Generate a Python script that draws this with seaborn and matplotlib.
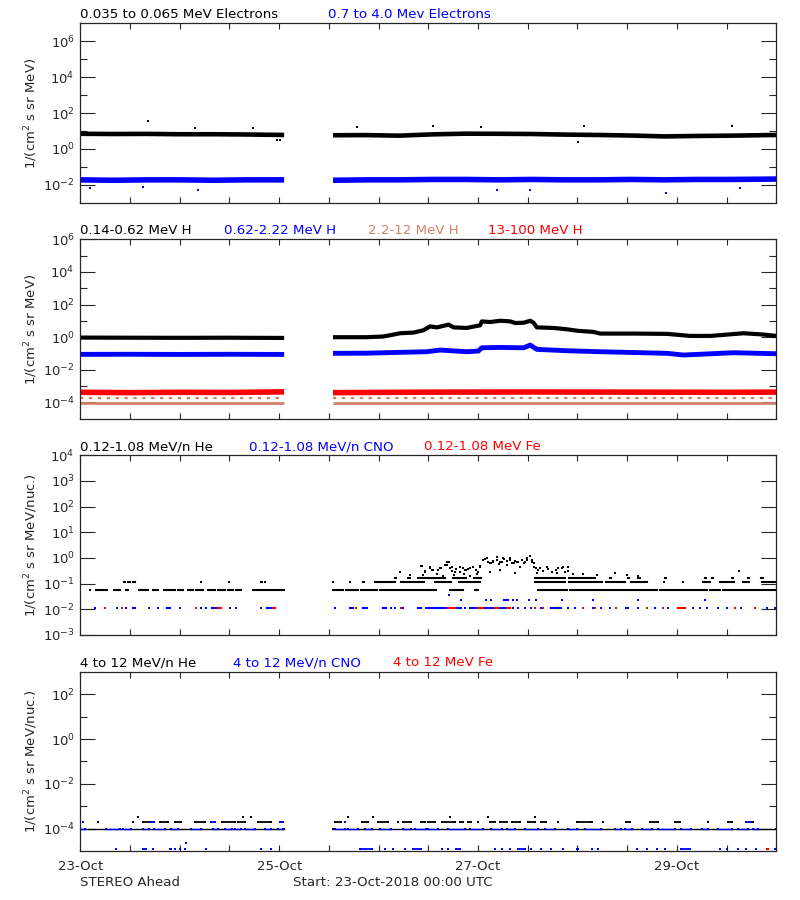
import numpy as np
import pandas as pd
import seaborn as sns
import matplotlib.pyplot as plt
from matplotlib.ticker import FixedLocator, NullFormatter, FuncFormatter

# all times are hours since 23-Oct-2018 00:00 UTC
BLUE = "#0000ff"
RED = "#ff0000"
SALMON = "#d2826a"

DAY_TICKS = [0, 48, 96, 144]
DAY_LABELS = ["23-Oct", "25-Oct", "27-Oct", "29-Oct"]
DATA_SEGMENTS = [[0, 49.2], [61, 168]]

# --- panel 1: electrons
E_LO_T = [0, 8, 16, 24, 32, 40, 49.2, 61, 69, 77, 85, 93, 101, 109, 117, 125, 133, 141, 149, 157, 168]
E_LO_V = [7.0, 6.8, 6.9, 6.6, 6.6, 6.4, 6.0, 5.8, 5.9, 5.5, 6.5, 7.1, 7.0, 6.8, 6.3, 6.0, 5.6, 5.0, 5.3, 5.5, 6.0]
E_HI_T = E_LO_T
E_HI_V = [0.019, 0.018, 0.019, 0.019, 0.018, 0.019, 0.019, 0.018, 0.019, 0.019, 0.020,
          0.020, 0.019, 0.020, 0.019, 0.019, 0.020, 0.019, 0.020, 0.020, 0.021]
E_LO_OUT_T = [16.4, 27.7, 41.8, 66.7, 85.2, 96.7, 121.7, 157.3, 47.4, 48.2, 120.1]
E_LO_OUT_V = [37, 14.7, 14.7, 16.7, 19.7, 16.7, 18, 19.7, 3.0, 3.0, 2.6]
E_HI_OUT_T = [2.3, 15.2, 28.5, 100.5, 108.6, 141.3, 159.3]
E_HI_OUT_V = [0.0068, 0.0077, 0.005, 0.005, 0.005, 0.0033, 0.0068]

# --- panel 2: protons
H1_T = [0, 12, 24, 36, 49.2, 61, 65, 69, 71, 73, 75, 77.2, 80.4, 82.8, 84.4, 86.1, 88.9, 90.1,
        93.3, 95.7, 96.5, 96.9, 98.9, 101.4, 103.8, 105.0, 107.0, 108.6, 109.4, 110.2, 114.2,
        117.5, 119.9, 123.9, 125.5, 133.6, 141.6, 147.2, 152.1, 160.1, 165.0, 168]
H1_V = [0.95, 0.93, 0.92, 0.93, 0.9, 1.0, 1.0, 1.0, 1.05, 1.1, 1.35, 1.75, 1.92, 2.65, 4.6, 4.0,
        5.9, 4.0, 3.7, 4.9, 5.3, 9.3, 8.5, 10.2, 9.3, 7.4, 7.7, 10.2, 7.7, 4.0, 3.7, 3.05, 2.5,
        2.1, 1.67, 1.67, 1.6, 1.2, 1.2, 1.75, 1.45, 1.2]
H2_T = [0, 12, 24, 36, 49.2, 61, 69, 77.2, 83.6, 86.9, 93.3, 96.1, 96.9, 101.4, 107.0, 108.6,
        110.2, 117.5, 125.5, 141.6, 145.6, 157.7, 168]
H2_V = [0.089, 0.09, 0.088, 0.09, 0.088, 0.103, 0.105, 0.118, 0.129, 0.163, 0.129, 0.142, 0.225,
        0.236, 0.225, 0.33, 0.18, 0.148, 0.129, 0.103, 0.081, 0.112, 0.097]
H3_T = [0, 24, 49.2, 61, 100, 168]
H3_V = [8.7e-5, 8.7e-5, 8.7e-5, 8.7e-5, 8.7e-5, 8.7e-5]
H3_SPARSE = 1.9e-4
H4_T = [0, 12, 24, 36, 49.2, 61, 85, 109, 133, 157, 168]
H4_V = [4.2e-4, 4.0e-4, 4.2e-4, 4.1e-4, 4.5e-4, 4.0e-4, 4.3e-4, 4.4e-4, 4.3e-4, 4.2e-4, 4.3e-4]

# --- panel 3: 0.12-1.08 MeV/n heavy ions (count levels)
HE_LEVELS = [0.055, 0.11, 0.165]
HE_ROW1 = [[2.3, 2.3], [3.9, 6.5], [8.1, 9.5], [11.1, 11.5], [14.2, 16.3], [17.6, 18.8],
           [20.2, 22.8], [23.6, 24.8], [26.0, 27.2], [28.0, 29.6], [30.8, 32.5], [33.2, 34.9],
           [35.7, 36.9], [37.7, 38.9], [41.7, 46.1], [46.5, 49.2], [61.0, 63.5], [64.2, 67.0],
           [67.8, 71.5], [72.3, 83.9], [84.0, 85.9], [89.2, 92.4], [95.2, 96.0], [110.5, 117.5],
           [118.2, 139.2], [139.9, 151.3], [152.0, 154.5], [155.2, 164.2], [164.8, 168.0]]
HE_ROW2 = [[10.5, 10.8], [11.6, 11.9], [12.8, 13.1], [29.2, 29.2], [35.8, 35.8], [43.6, 43.9],
           [44.5, 44.7], [61.0, 61.0], [65.0, 65.2], [68.3, 68.5], [71.1, 76.0], [77.5, 83.0],
           [85.5, 89.5], [91.5, 96.5], [109.8, 117.0], [118.0, 126.0], [127.0, 131.5],
           [133.0, 136.7], [140.8, 140.8], [145.6, 145.6], [150.4, 152.0], [154.5, 157.7],
           [160.0, 161.3], [164.5, 168.0]]
HE_ROW3 = [[75.9, 76.3], [79.0, 79.6], [81.5, 83.9], [84.5, 88.0], [90.0, 93.0], [95.0, 96.8],
           [109.7, 117.0], [118.0, 124.2], [127.8, 128.1], [132.2, 132.5], [134.7, 135.0],
           [141.1, 141.4], [150.8, 151.1], [152.4, 152.7], [157.2, 157.5], [161.2, 161.5],
           [164.4, 164.7]]
HE_CLOUD_T = [77.1, 79.5, 82.3, 83.2, 82.4, 84.4, 83.2, 85.2, 86.8, 88.5, 88.9, 89.7, 90.5, 91.7,
              92.9, 93.7, 94.9, 96.1, 96.5, 97.3, 98.1, 98.9, 99.7, 100.5, 101.3, 102.1, 103.0,
              103.8, 104.6, 105.4, 106.2, 107.0, 107.8, 108.6, 109.0, 109.4, 111.0, 112.6, 113.8,
              115.4, 116.6, 117.8, 119.0, 121.4, 124.7, 129.1, 131.9, 134.7, 158.9, 82.8, 86.1,
              87.6, 90.1, 92.5, 94.1, 95.7, 98.9, 101.3, 105.0, 110.2, 115.0,
              84.4, 84.9, 86.4, 87.0, 88.1, 88.6, 89.2, 89.7, 90.8, 91.6, 92.4, 93.2, 94.0, 94.8,
              95.6, 96.4, 97.2, 97.8, 98.4, 99.1, 99.6, 100.5, 101.0, 101.7, 102.3, 102.9, 103.7,
              104.2, 105.0, 105.7, 106.5, 107.3, 107.9, 108.5, 109.1, 109.6, 109.9, 110.5, 111.7,
              112.9, 113.9, 114.9, 116.2, 117.0, 117.8]
HE_CLOUD_V = [0.27, 0.22, 0.50, 0.31, 0.49, 0.43, 0.29, 0.34, 0.40, 0.53, 0.72, 0.46, 0.29, 0.46,
              0.34, 0.36, 0.43, 0.29, 0.43, 0.84, 0.97, 0.62, 0.72, 1.12, 0.66, 0.97, 0.53, 0.84,
              0.62, 0.72, 0.46, 0.62, 0.84, 1.2, 0.72, 0.46, 0.40, 0.43, 0.29, 0.40, 0.43, 0.43,
              0.24, 0.24, 0.22, 0.25, 0.22, 0.20, 0.32, 0.22, 0.24, 0.20, 0.22, 0.24, 0.20, 0.24,
              0.29, 0.34, 0.25, 0.25, 0.25,
              0.40, 0.34, 0.34, 0.42, 0.53, 0.68, 0.40, 0.31, 0.37, 0.29, 0.40, 0.34, 0.42, 0.46,
              0.34, 0.50, 0.84, 0.91, 0.72, 0.62, 0.76, 0.84, 0.57, 0.72, 0.91, 0.76, 0.97,
              0.62, 0.76, 0.68, 0.84, 0.72, 1.03, 1.23, 0.84, 0.62, 0.40, 0.34, 0.31,
              0.37, 0.29, 0.34, 0.40, 0.28, 0.31]
CNO_LEVELS = [0.011, 0.022]
CNO_ROW1 = [[3.6, 3.6], [8.9, 8.9], [11.1, 11.1], [12.7, 13.3], [16.6, 16.6], [18.8, 18.8],
            [21.0, 21.6], [24.0, 24.0], [29.2, 29.2], [30.4, 30.4], [31.8, 32.8], [36.1, 36.1],
            [37.7, 37.7], [43.7, 43.7], [45.1, 46.1], [61.4, 61.4], [65.0, 65.8], [68.3, 69.1],
            [73.1, 73.9], [75.1, 75.1], [75.9, 75.9], [77.9, 77.9], [81.5, 82.3], [83.5, 83.5],
            [84.0, 88.8], [90.4, 92.0], [92.8, 92.8], [94.0, 95.6], [97.6, 100.0], [100.9, 102.5],
            [104.5, 104.5], [105.7, 105.7], [107.3, 107.3], [108.9, 108.9], [111.3, 111.3],
            [113.7, 116.1], [117.8, 117.8], [119.4, 119.4], [123.8, 123.8], [125.8, 125.8],
            [127.8, 127.8], [131.8, 132.3], [134.7, 134.7], [138.7, 138.7], [141.9, 141.9],
            [145.9, 145.9], [147.9, 147.9], [149.6, 149.6], [151.2, 151.2], [154.0, 154.0],
            [156.0, 156.0], [159.6, 159.6], [165.7, 165.7], [167.7, 167.7]]
CNO_ROW2 = [[91.8, 91.8], [98.0, 98.0], [99.2, 99.2], [102.3, 103.3], [104.5, 104.5],
            [105.5, 105.5], [108.3, 108.3], [109.9, 109.9], [116.3, 116.3], [123.8, 123.8],
            [134.7, 134.7], [150.8, 150.8]]
CNO_EXTRA_T = [89.0]
CNO_EXTRA_V = [0.037]
FE_ROW1 = [[5.9, 5.9], [10.1, 10.1], [28.0, 28.0], [33.2, 33.9], [46.5, 47.1], [66.6, 66.6],
           [77.4, 77.4], [88.8, 90.4], [96.0, 97.2], [100.05, 100.9], [102.9, 103.7],
           [109.7, 109.7], [111.7, 111.7], [116.1, 116.1], [121.4, 121.4], [124.2, 124.2],
           [129.4, 129.4], [136.7, 136.7], [140.7, 140.7], [144.3, 145.9], [158.0, 158.0],
           [162.8, 162.8]]

# --- panel 4: 4-12 MeV/n heavy ions
HI_LEVELS = [1.0e-4, 2.0e-4, 3.2e-4, 1.3e-5]
HE4_ROW2 = [[4.3, 4.3], [12.7, 12.7], [15.1, 17.9], [19.2, 21.2], [22.8, 24.4], [27.6, 30.0],
            [34.1, 37.3], [38.1, 39.7], [42.9, 46.1], [61.4, 63.0], [67.9, 69.5], [71.9, 74.3],
            [76.7, 76.7], [77.9, 79.9], [82.3, 83.2], [84.0, 85.6], [87.2, 90.4], [91.6, 92.4],
            [93.6, 94.4], [96.0, 96.0], [98.8, 100.1], [101.3, 102.9], [104.1, 106.1],
            [108.1, 109.7], [111.3, 112.5], [115.3, 115.3], [119.8, 123.4], [126.2, 126.2],
            [131.8, 132.7], [137.5, 139.5], [143.5, 144.7], [151.6, 151.6], [156.4, 157.2],
            [161.6, 162.4]]
HE4_ROW3_T = [13.9, 39.3, 41.3, 64.6, 70.7, 89.2, 98.4, 109.7]
CNO4_LINE = [[0, 1.05], [6.3, 9.5], [10.3, 12.3], [15.1, 16.7], [17.9, 20.4], [22.0, 23.6],
             [26.8, 29.2], [32.0, 33.3], [34.9, 36.5], [37.3, 38.9], [39.7, 42.1], [44.5, 46.1],
             [47.7, 48.9], [61.4, 63.8], [64.6, 67.1], [68.7, 70.3], [72.3, 75.1], [77.9, 79.9],
             [80.7, 83.5], [84.0, 86.4], [88.8, 92.8], [94.0, 97.2], [99.2, 101.7], [102.9, 104.9],
             [107.3, 110.5], [112.1, 114.5], [117.8, 119.8], [121.8, 125.8], [129.0, 130.6],
             [131.4, 133.1], [135.5, 137.9], [139.5, 143.5], [145.1, 147.5], [150.0, 151.6],
             [154.0, 157.2], [158.8, 161.2], [162.4, 163.6]]
CNO4_ROW2 = [[0.6, 0.6], [17.1, 17.9], [31.6, 32.4], [48.1, 48.9], [63.8, 63.8], [160.8, 161.6]]
CNO4_LOW = [[8.7, 8.7], [15.1, 15.9], [17.5, 17.5], [21.6, 22.0], [22.8, 22.8], [24.0, 24.0],
            [25.2, 25.2], [30.4, 30.4], [43.7, 43.7], [46.1, 46.1], [67.5, 70.3], [73.5, 73.5],
            [75.5, 75.5], [78.3, 78.3], [80.3, 82.3], [87.2, 87.2], [88.8, 88.8], [90.8, 91.6],
            [100.1, 100.1], [101.7, 101.7], [103.7, 103.7], [105.7, 107.3], [108.9, 108.9],
            [111.3, 111.3], [113.7, 113.7], [116.6, 116.6], [119.8, 120.2], [123.4, 123.4],
            [125.0, 125.0], [134.3, 134.3], [136.7, 136.7], [139.1, 139.1], [141.1, 141.1],
            [145.1, 147.1], [154.4, 154.4], [156.0, 156.0], [158.8, 158.8], [160.8, 160.8],
            [163.2, 163.2], [167.7, 167.7]]
CNO4_EXTRA_T = [25.4]
CNO4_EXTRA_V = [2.4e-5]
FE4_LOW = [[165.7, 166.1]]


def series_frame(t, v):
    df = pd.DataFrame({"t": t, "v": v})
    df["seg"] = (df["t"] > 55).astype(int)
    return df


def draw_band(ax, t, v, color, lw):
    sns.lineplot(data=series_frame(t, v), x="t", y="v", units="seg", estimator=None,
                 color=color, lw=lw, ax=ax, solid_capstyle="butt")


def draw_rows(ax, segs, level, color, lw=1.5):
    a = [s[0] for s in segs]
    b = [s[1] for s in segs]
    ax.hlines([level] * len(segs), a, b, colors=color, lw=lw, capstyle="projecting")
    pts = pd.DataFrame({"t": a + b, "v": [level] * (2 * len(segs))})
    sns.scatterplot(data=pts, x="t", y="v", color=color, marker="s", s=lw * lw * 1.1,
                    linewidth=0, ax=ax)


def draw_points(ax, t, v, color, size=3.0):
    sns.scatterplot(data=pd.DataFrame({"t": t, "v": v}), x="t", y="v", color=color,
                    marker="s", s=size, linewidth=0, ax=ax)


def setup_axis(ax, ylim, major, minor, ylabel, show_x):
    ax.set_yscale("log")
    ax.set_xlim(0, 168)
    ax.set_ylim(*ylim)
    ax.yaxis.set_major_locator(FixedLocator([10.0 ** k for k in major]))
    ax.yaxis.set_minor_locator(FixedLocator([10.0 ** k for k in minor]))
    ax.yaxis.set_major_formatter(FuncFormatter(lambda y, _: f"$10^{{{int(round(np.log10(y)))}}}$"))
    ax.yaxis.set_minor_formatter(NullFormatter())
    ax.xaxis.set_major_locator(FixedLocator(list(range(0, 169, 12))))
    ax.xaxis.set_major_formatter(FuncFormatter(
        lambda x, _: DAY_LABELS[DAY_TICKS.index(int(x))] if show_x and int(x) in DAY_TICKS else ""))
    ax.tick_params(axis="y", which="major", direction="in", length=10.5, width=0.8,
                   left=True, right=True, labelsize=9.5, pad=4)
    ax.tick_params(axis="y", which="minor", direction="in", length=5.3, width=0.8,
                   left=True, right=True)
    ax.tick_params(axis="x", which="major", direction="in", length=4.5, width=0.8,
                   top=True, bottom=True, labelsize=9.5, pad=6)
    ax.text(-0.071, 0.5, ylabel, transform=ax.transAxes, rotation=90, ha="center",
            va="center", fontsize=9.5)
    for s in ax.spines.values():
        s.set_linewidth(0.9)


def titles(fig, top_px, parts):
    y = 1 - (top_px - 5.3) / 900
    for x_px, text, color in parts:
        fig.text(x_px / 800, y, text, color=color, fontsize=9.6, va="baseline", ha="left")


def main():
    sns.set_style("white")
    plt.rcParams["font.family"] = ["DejaVu Sans"]
    plt.rcParams["mathtext.fontset"] = "dejavusans"
    fig = plt.figure(figsize=(8, 9), dpi=100)

    tops = [23.3, 239.3, 455.3, 671.7]
    axes = [fig.add_axes([80.3 / 800, 1 - (t + 179.5) / 900, 696 / 800, 179.5 / 900]) for t in tops]
    ax1, ax2, ax3, ax4 = axes

    unit_a = "1/(cm$^2$ s sr MeV)"
    unit_b = "1/(cm$^2$ s sr MeV/nuc.)"

    # panel 1
    setup_axis(ax1, (1e-3, 1e7), [-2, 0, 2, 4, 6], [-1, 1, 3, 5], unit_a, False)
    draw_band(ax1, E_LO_T, E_LO_V, "black", 3.3)
    draw_band(ax1, E_HI_T, E_HI_V, BLUE, 4.0)
    draw_points(ax1, E_LO_OUT_T, E_LO_OUT_V, "black", 4)
    draw_points(ax1, E_HI_OUT_T, E_HI_OUT_V, BLUE, 4)
    titles(fig, tops[0], [(80, "0.035 to 0.065 MeV Electrons", "black"),
                          (328, "0.7 to 4.0 Mev Electrons", BLUE)])

    # panel 2
    setup_axis(ax2, (1e-5, 1e6), [-4, -2, 0, 2, 4, 6], [-3, -1, 1, 3, 5], unit_a, False)
    draw_band(ax2, H4_T, H4_V, RED, 4.0)
    for a, b in DATA_SEGMENTS:
        ax2.hlines(H3_SPARSE, a, b, colors=SALMON, lw=1.6, linestyles=(0, (1.5, 2.5)))
    draw_band(ax2, H3_T, H3_V, SALMON, 2.0)
    draw_band(ax2, H2_T, H2_V, BLUE, 3.5)
    draw_band(ax2, H1_T, H1_V, "black", 3.0)
    titles(fig, tops[1], [(80, "0.14-0.62 MeV H", "black"), (224, "0.62-2.22 MeV H", BLUE),
                          (368, "2.2-12 MeV H", SALMON), (488, "13-100 MeV H", RED)])

    # panel 3
    setup_axis(ax3, (1e-3, 1e4), [-3, -2, -1, 0, 1, 2, 3, 4], [], unit_b, False)
    for segs, lev in zip([HE_ROW1, HE_ROW2, HE_ROW3], HE_LEVELS):
        draw_rows(ax3, segs, lev, "black")
    draw_points(ax3, HE_CLOUD_T, HE_CLOUD_V, "black", 4)
    draw_rows(ax3, CNO_ROW1, CNO_LEVELS[0], BLUE)
    draw_rows(ax3, CNO_ROW2, CNO_LEVELS[1], BLUE)
    draw_points(ax3, CNO_EXTRA_T, CNO_EXTRA_V, BLUE, 2)
    draw_rows(ax3, FE_ROW1, CNO_LEVELS[0], RED)
    titles(fig, tops[2], [(80, "0.12-1.08 MeV/n He", "black"),
                          (249, "0.12-1.08 MeV/n CNO", BLUE), (424, "0.12-1.08 MeV Fe", RED)])

    # panel 4
    setup_axis(ax4, (1e-5, 1e3), [-4, -2, 0, 2], [-3, -1, 1], unit_b, True)
    draw_rows(ax4, DATA_SEGMENTS, HI_LEVELS[0], "black", lw=1.0)
    draw_rows(ax4, CNO4_LINE, HI_LEVELS[0], BLUE, lw=1.0)
    draw_rows(ax4, HE4_ROW2, HI_LEVELS[1], "black", lw=1.3)
    draw_rows(ax4, CNO4_ROW2, HI_LEVELS[1], BLUE, lw=1.3)
    draw_points(ax4, HE4_ROW3_T, [HI_LEVELS[2]] * len(HE4_ROW3_T), "black", 2)
    draw_rows(ax4, CNO4_LOW, HI_LEVELS[3], BLUE, lw=1.3)
    draw_rows(ax4, FE4_LOW, HI_LEVELS[3], RED, lw=1.3)
    draw_points(ax4, CNO4_EXTRA_T, CNO4_EXTRA_V, BLUE, 2)
    titles(fig, tops[3], [(80, "4 to 12 MeV/n He", "black"),
                          (233, "4 to 12 MeV/n CNO", BLUE), (393, "4 to 12 MeV Fe", RED)])

    # seaborn sets its own axis labels; the units are drawn as text instead
    for ax in axes:
        ax.set_xlabel("")
        ax.set_ylabel("")

    fig.text(80 / 800, 1 - 885.5 / 900, "STEREO Ahead", fontsize=9.6, va="baseline")
    fig.text(293 / 800, 1 - 885.5 / 900, "Start: 23-Oct-2018 00:00 UTC", fontsize=9.6,
             va="baseline")

    fig.savefig("out.png", dpi=100)


if __name__ == "__main__":
    main()
